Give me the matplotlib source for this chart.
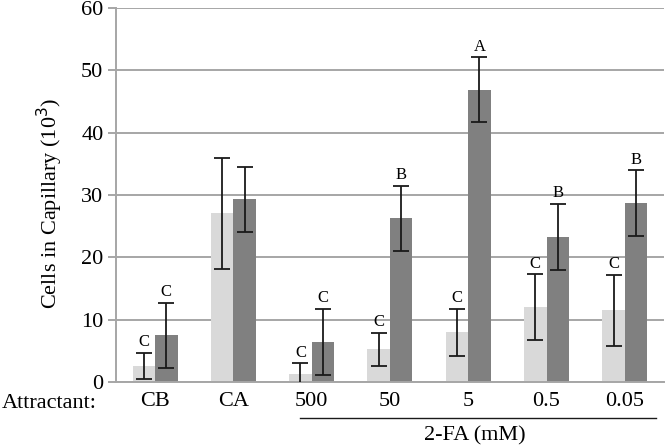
import numpy as np
import matplotlib.pyplot as plt
import matplotlib.transforms as mtransforms

plt.rcParams['font.family'] = ['Liberation Serif', 'DejaVu Serif']

# categories and values (cells x 10^3)
groups = ['CB', 'CA', '500', '50', '5', '0.5', '0.05']
light_mean = [2.6, 27.1, 1.3, 5.3, 8.0, 12.0, 11.5]
light_err = [2.15, 8.9, 1.7, 2.65, 3.75, 5.3, 5.75]
dark_mean = [7.5, 29.3, 6.4, 26.3, 46.9, 23.3, 28.7]
dark_err = [5.2, 5.2, 5.3, 5.2, 5.2, 5.3, 5.25]
light_letters = ['C', '', 'C', 'C', 'C', 'C', 'C']
dark_letters = ['C', '', 'C', 'B', 'A', 'B', 'B']

fig = plt.figure(figsize=(6.66, 4.48), dpi=100)
ax = fig.add_axes([0.174, 0.147, 0.823, 0.835])

x = np.arange(len(groups))
w = 0.287
grid_c = '#a6a6a6'
fs = 16

ax.bar(x - w/2, light_mean, w, color='#d9d9d9', zorder=2)
ax.bar(x + w/2, dark_mean, w, color='#808080', zorder=2)
ax.errorbar(x - w/2, light_mean, yerr=light_err, fmt='none', ecolor='#1a1a1a',
            elinewidth=1.3, capsize=5.6, capthick=1.3, zorder=3)
ax.errorbar(x + w/2, dark_mean, yerr=dark_err, fmt='none', ecolor='#1a1a1a',
            elinewidth=1.3, capsize=5.6, capthick=1.3, zorder=3)

# significance letters
for xi, m, e, t in zip(x - w/2, light_mean, light_err, light_letters):
    if t:
        ax.annotate(t, (xi, m + e), xytext=(0, 2), textcoords='offset points',
                    ha='center', va='bottom', fontsize=12)
for xi, m, e, t in zip(x + w/2, dark_mean, dark_err, dark_letters):
    if t:
        ax.annotate(t, (xi, m + e), xytext=(0, 2), textcoords='offset points',
                    ha='center', va='bottom', fontsize=12)

ax.set_xlim(-0.5, len(groups) - 0.5)
ax.set_ylim(0, 60)
ax.set_yticks(range(0, 61, 10))
ax.yaxis.grid(True, color=grid_c, linewidth=1.4, zorder=0)
ax.set_axisbelow(True)
ax.tick_params(axis='y', length=6, width=1.4, color=grid_c, pad=3, labelsize=fs)
ax.set_xticks(x)
ax.set_xticklabels(groups, fontsize=fs)
ax.tick_params(axis='x', length=0, pad=7)

for s in ['top', 'right']:
    ax.spines[s].set_visible(False)
ax.spines['left'].set_color(grid_c)
ax.spines['left'].set_linewidth(1.4)
ax.spines['bottom'].set_color(grid_c)
ax.spines['bottom'].set_linewidth(1.4)

fig.text(50/666, 1 - 203/448, 'Cells in Capillary (10$^3$)', fontsize=16,
         rotation=90, ha='center', va='center')

fig.text(0.003, 1 - 403/448, 'Attractant:', fontsize=fs, ha='left', va='center')

# bracket line under the 2-FA concentrations
trans = mtransforms.blended_transform_factory(ax.transData, fig.transFigure)
ax.plot([1.85, 6.4], [1 - 418/448] * 2, color='#1a1a1a', linewidth=1.0,
        transform=trans, clip_on=False)
fig.text(475/666, 1 - 436/448, '2-FA (mM)', fontsize=fs, ha='center', va='center')

fig.savefig('out.png', dpi=100)
